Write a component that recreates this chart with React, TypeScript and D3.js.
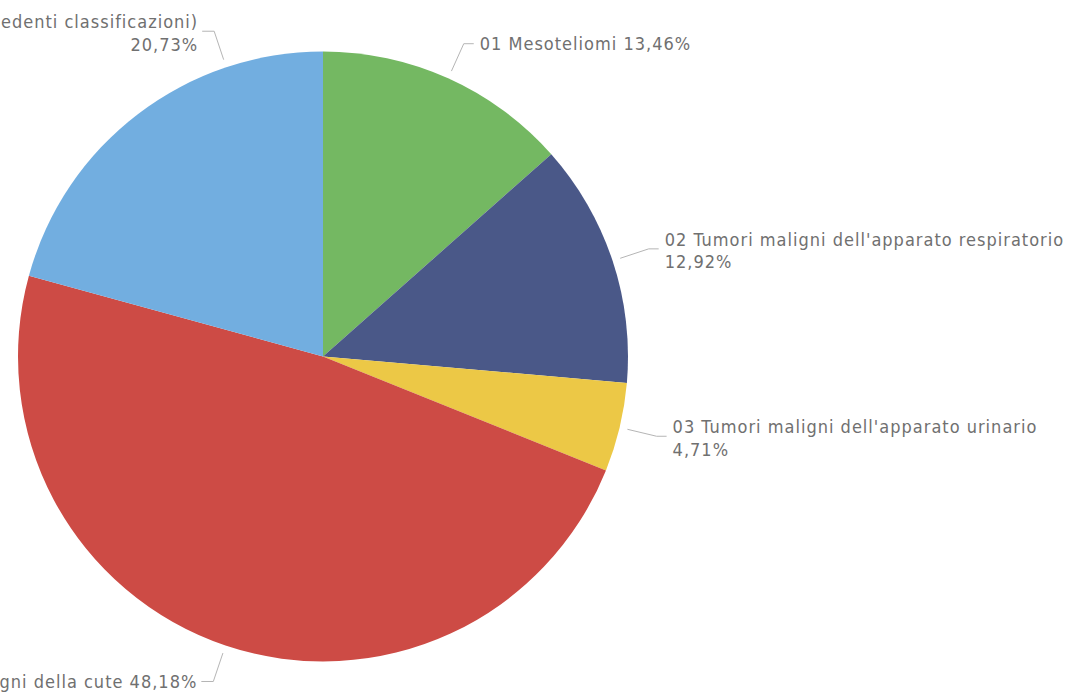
import React from "react";
import * as d3 from "d3";

const categories = [
  "01 Mesoteliomi",
  "02 Tumori maligni dell'apparato respiratorio",
  "03 Tumori maligni dell'apparato urinario",
  "04 Tumori maligni della cute",
  "05 Altri tumori (non compresi nelle precedenti classificazioni)",
];
const values = [13.46, 12.92, 4.71, 48.18, 20.73];
const colors = ["#74b862", "#4a5888", "#ecc846", "#cd4b45", "#72aee0"];

// label layout (not data): anchor angle override in degrees, line mode
const labelLayout = [
  { angle: null as number | null, oneLine: true },
  { angle: null as number | null, oneLine: false },
  { angle: null as number | null, oneLine: false },
  { angle: null as number | null, oneLine: true },
  { angle: 341.5 as number | null, oneLine: false },
];

const W = 1067;
const H = 692;
const cx = 323;
const cy = 356.5;
const R = 305;
const FONT = "'DejaVu Sans Condensed', 'DejaVu Sans', sans-serif";
const FS = 18;
const LS = 1.0;
const TXT = "#707070";

const fmt = (v: number) => v.toFixed(2).replace(".", ",") + "%";

export default function App() {
  const pie = d3
    .pie<number>()
    .sort(null)
    .value((d) => d)(values);
  const arc = d3.arc<d3.PieArcDatum<number>>().innerRadius(0).outerRadius(R);

  return (
    <svg
      width={W}
      height={H}
      style={{ position: "absolute", left: 0, top: 0, background: "#fff" }}
    >
      <g transform={`translate(${cx},${cy})`}>
        {pie.map((p, i) => (
          <path key={i} d={arc(p) || ""} fill={colors[i]} />
        ))}
      </g>
      {pie.map((p, i) => {
        const lay = labelLayout[i];
        const ang =
          lay.angle !== null
            ? (lay.angle * Math.PI) / 180
            : (p.startAngle + p.endAngle) / 2;
        const r1 = R + 8;
        const r2 = R + 38;
        const x1 = cx + r1 * Math.sin(ang);
        const y1 = cy - r1 * Math.cos(ang);
        const x2 = cx + r2 * Math.sin(ang);
        const y2 = cy - r2 * Math.cos(ang);
        const right = Math.sin(ang) >= 0;
        const x3 = x2 + (right ? 10 : -12);
        const tx = x3 + (right ? 6 : -4);
        const anchor = right ? "start" : "end";
        return (
          <g key={"l" + i}>
            <polyline
              points={`${x1},${y1} ${x2},${y2} ${x3},${y2}`}
              fill="none"
              stroke="#b5b5b5"
              strokeWidth={1}
            />
            {lay.oneLine ? (
              <text
                x={tx}
                y={y2 + 6.5}
                textAnchor={anchor}
                fontFamily={FONT}
                fontSize={FS}
                letterSpacing={LS}
                fill={TXT}
              >
                {categories[i] + " " + fmt(values[i])}
              </text>
            ) : (
              <text
                x={tx}
                y={y2 - 3}
                textAnchor={anchor}
                fontFamily={FONT}
                fontSize={FS}
                letterSpacing={LS}
                fill={TXT}
              >
                <tspan x={tx}>{categories[i]}</tspan>
                <tspan x={tx} dy={22.5}>
                  {fmt(values[i])}
                </tspan>
              </text>
            )}
          </g>
        );
      })}
    </svg>
  );
}
